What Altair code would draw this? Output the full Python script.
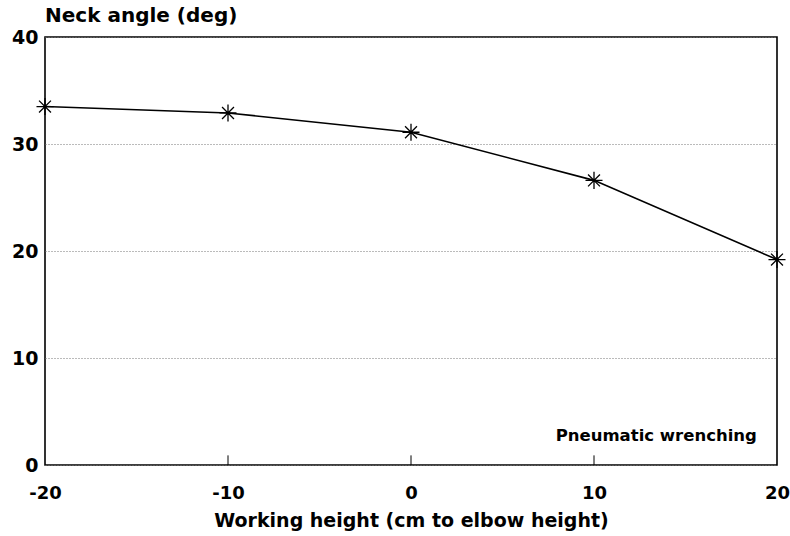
import altair as alt
import pandas as pd

heights = [-20, -10, 0, 10, 20]
neck_angle = [33.5, 32.9, 31.1, 26.6, 19.2]
tick_positions = [-10, 0, 10]
x_labels = [-20, -10, 0, 10, 20]
y_labels = [0, 10, 20, 30, 40]

df = pd.DataFrame({"h": heights, "a": neck_angle})
ticks = pd.DataFrame({"t": tick_positions, "y0": [0] * 3, "y1": [0.9] * 3})
note = pd.DataFrame({"x": [18.9], "y": [2.7], "txt": ["Pneumatic wrenching"]})

FONT = "DejaVu Sans"

xscale = alt.Scale(domain=[-20, 20], nice=False, zero=False)
yscale = alt.Scale(domain=[0, 40], nice=False)

xax = alt.Axis(values=x_labels, title="Working height (cm to elbow height)",
               grid=False, ticks=False, domain=False, labelFont=FONT,
               labelFontSize=18, labelFontWeight="bold", labelColor="black",
               labelPadding=19, titleFont=FONT, titleFontSize=19,
               titleFontWeight="bold", titleColor="black", titlePadding=9,
               labelFlush=False, labelExpr="'' + datum.value")
yax = alt.Axis(values=y_labels, title=None, grid=True, gridDash=[1, 2],
               gridColor="#777777", gridWidth=1, ticks=False, domain=False,
               labelFont=FONT, labelFontSize=19, labelFontWeight="bold",
               labelColor="black", labelPadding=7, labelFlush=False)

line = alt.Chart(df).mark_line(color="black", strokeWidth=1.6).encode(
    x=alt.X("h:Q", scale=xscale, axis=xax),
    y=alt.Y("a:Q", scale=yscale, axis=yax),
)

asterisk = "M-1,0L1,0M0,-1L0,1M-0.7,-0.7L0.7,0.7M-0.7,0.7L0.7,-0.7"
pts = alt.Chart(df).mark_point(shape=asterisk, filled=False, color="black",
                               strokeWidth=1.3, size=290, opacity=1).encode(
    x=alt.X("h:Q", scale=xscale),
    y=alt.Y("a:Q", scale=yscale),
)

tk = alt.Chart(ticks).mark_rule(color="black", strokeWidth=1).encode(
    x=alt.X("t:Q", scale=xscale),
    y=alt.Y("y0:Q", scale=yscale),
    y2="y1:Q",
)

txt = alt.Chart(note).mark_text(align="right", baseline="middle", font=FONT,
                                fontSize=16.5, fontWeight="bold",
                                color="black").encode(
    x=alt.X("x:Q", scale=xscale),
    y=alt.Y("y:Q", scale=yscale),
    text="txt:N",
)

chart = alt.layer(tk, line, pts, txt).properties(
    width=732, height=428,
    title=alt.TitleParams("Neck angle (deg)", anchor="start", frame="group",
                          font=FONT, fontSize=20, fontWeight="bold",
                          color="black", offset=2),
    autosize=alt.AutoSizeParams(type="none"),
    padding={"left": 45, "top": 37, "right": 13, "bottom": 71},
).configure(background="white").configure_view(stroke="black", strokeWidth=1.6)

chart.save("out.html", embed_options={"renderer": "svg", "actions": False})
